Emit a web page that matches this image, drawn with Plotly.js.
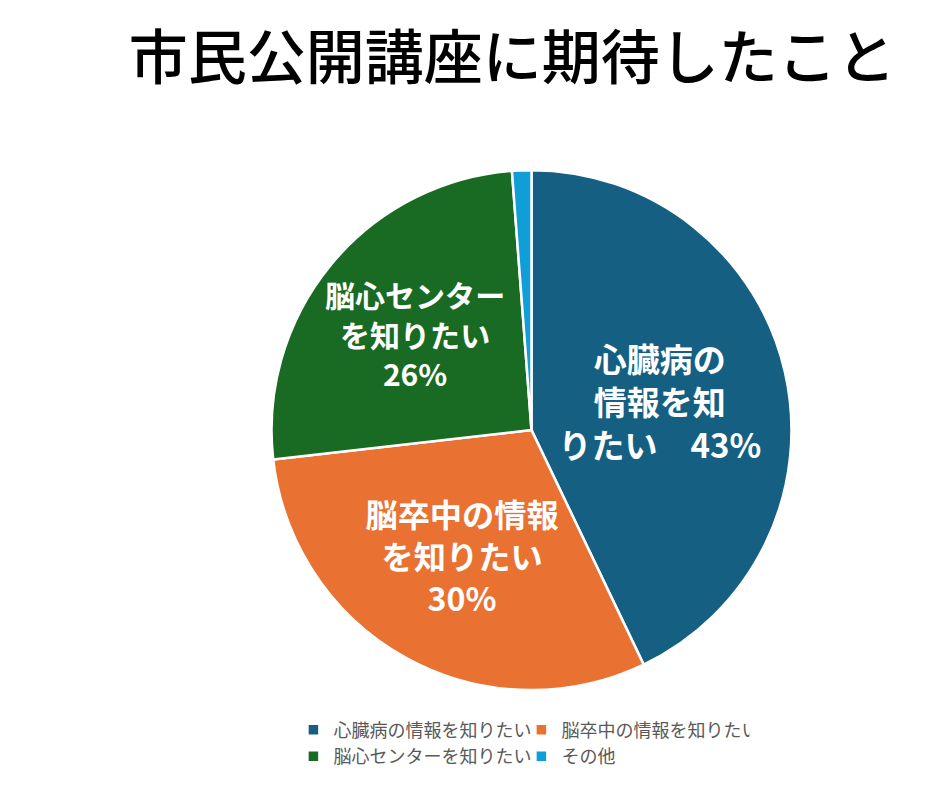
<!DOCTYPE html>
<html>
<head>
<meta charset="utf-8">
<script src="https://cdn.plot.ly/plotly-3.0.1.min.js"></script>
<style>html,body{margin:0;padding:0;background:#fff;}#chart{width:933px;height:795px;}</style>
</head>
<body>
<div id="chart"></div>
<script>
const categories = ["心臓病の情報を知りたい", "脳卒中の情報を知りたい", "脳心センターを知りたい", "その他"];
const values = [42.9, 30.3, 25.6, 1.2];
const sliceLabelLines = [
  ["心臓病の", "情報を知", "りたい　%{percent:.0%}"],
  ["脳卒中の情報", "を知りたい", "%{percent:.0%}"],
  ["脳心センター", "を知りたい", "%{percent:.0%}"],
  []
];
const colors = ["#156082", "#E97132", "#196B24", "#0F9ED5"];
const titleText = "市民公開講座に期待したこと";

const trace = {
  type: "pie",
  labels: categories,
  values: values,
  sort: false,
  direction: "clockwise",
  rotation: 0,
  marker: {colors: colors, line: {color: "#ffffff", width: 2.5}},
  texttemplate: sliceLabelLines.map(l => l.join("<br>")),
  textposition: "inside",
  insidetextorientation: "horizontal",
  insidetextfont: {family: "Noto Sans CJK JP", size: 33, color: "#ffffff", weight: "bold"},
  hoverinfo: "none",
  domain: {x: [0, 1], y: [0.132, 0.786]}
};

const layout = {
  width: 933, height: 795,
  margin: {l: 271, r: 141, t: 0, b: 0},
  paper_bgcolor: "#ffffff",
  plot_bgcolor: "#ffffff",
  title: {
    text: titleText,
    font: {family: "Noto Sans CJK JP", size: 59, color: "#000000", weight: 500},
    xref: "container", yref: "container",
    x: 0.549, y: 0.927, xanchor: "center", yanchor: "middle"
  },
  showlegend: true,
  legend: {
    orientation: "h",
    x: 0.043, xanchor: "left",
    y: 0.105, yanchor: "top",
    font: {family: "Noto Sans CJK JP", size: 18, color: "#595959"},
    itemwidth: 30,
    entrywidth: 183,
    entrywidthmode: "pixels",
    traceorder: "normal"
  }
};

Plotly.newPlot("chart", [trace], layout, {displayModeBar: false, staticPlot: true});
</script>
</body>
</html>
